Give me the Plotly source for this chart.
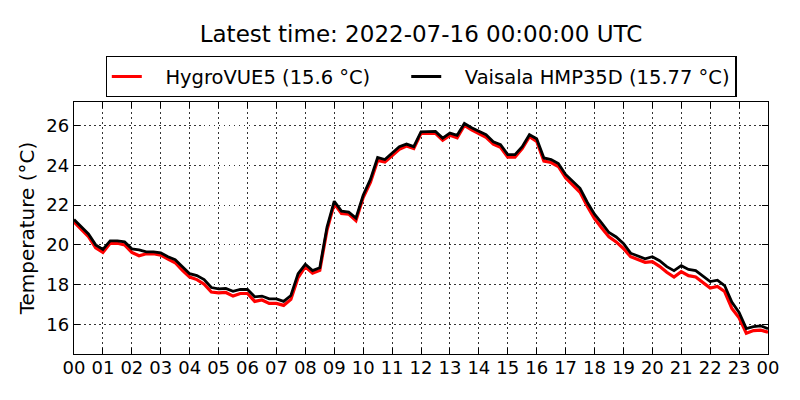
import pandas as pd
import plotly.graph_objects as go

# temperature readings every 15 minutes, 2022-07-15 00:00 .. 2022-07-16 00:00 UTC
vaisala = [21.28, 20.90, 20.55, 20.00, 19.77, 20.20, 20.20, 20.15,
           19.80, 19.75, 19.65, 19.65, 19.60, 19.40, 19.25, 18.90,
           18.55, 18.45, 18.25, 17.85, 17.78, 17.80, 17.66, 17.75,
           17.75, 17.38, 17.42, 17.28, 17.28, 17.15, 17.45, 18.55,
           19.02, 18.70, 18.85, 20.90, 22.20, 21.70, 21.65, 21.35,
           22.50, 23.30, 24.40, 24.30, 24.65, 24.95, 25.08, 24.95,
           25.70, 25.72, 25.72, 25.38, 25.63, 25.52, 26.12, 25.90,
           25.72, 25.55, 25.20, 25.05, 24.55, 24.55, 24.95, 25.55,
           25.35, 24.38, 24.30, 24.10, 23.55, 23.18, 22.85, 22.15,
           21.55, 21.10, 20.62, 20.40, 20.07, 19.58, 19.45, 19.30,
           19.40, 19.20, 18.90, 18.70, 18.95, 18.76, 18.70, 18.42,
           18.15, 18.22, 17.95, 17.12, 16.60, 15.78, 15.88, 15.92,
           15.77]

hygrovue = [21.15, 20.78, 20.42, 19.85, 19.62, 20.08, 20.08, 20.00,
            19.62, 19.45, 19.55, 19.55, 19.48, 19.28, 19.10, 18.72,
            18.38, 18.25, 18.02, 17.62, 17.58, 17.60, 17.42, 17.55,
            17.55, 17.15, 17.22, 17.05, 17.05, 16.95, 17.25, 18.35,
            18.90, 18.58, 18.72, 20.75, 22.08, 21.58, 21.55, 21.22,
            22.38, 23.15, 24.25, 24.18, 24.52, 24.82, 24.98, 24.85,
            25.62, 25.62, 25.62, 25.28, 25.52, 25.40, 26.02, 25.80,
            25.60, 25.42, 25.08, 24.92, 24.42, 24.42, 24.85, 25.45,
            25.22, 24.22, 24.15, 23.95, 23.38, 23.00, 22.65, 21.95,
            21.32, 20.85, 20.40, 20.15, 19.82, 19.40, 19.28, 19.12,
            19.15, 18.92, 18.62, 18.38, 18.65, 18.45, 18.38, 18.12,
            17.82, 17.90, 17.65, 16.80, 16.32, 15.55, 15.68, 15.70,
            15.60]

times = pd.date_range("2022-07-15 00:00", "2022-07-16 00:00", freq="15min")

nb = "\u00a0"  # no-break spaces used to space the legend entries

fig = go.Figure()
fig.add_trace(go.Scatter(x=times, y=hygrovue, mode="lines",
                         line=dict(color="red", width=3.2),
                         name=nb * 3 + f"HygroVUE5 ({hygrovue[-1]} °C)" + nb * 5))
fig.add_trace(go.Scatter(x=times, y=vaisala, mode="lines",
                         line=dict(color="black", width=2.8),
                         name=nb * 3 + f"Vaisala HMP35D ({vaisala[-1]} °C)"))

axis_style = dict(showline=True, linecolor="black", linewidth=1.3, mirror="ticks",
                  ticks="inside", ticklen=6, tickcolor="black", automargin=False,
                  showgrid=True, gridcolor="#333", griddash="1.5px,3.5px", gridwidth=1,
                  zeroline=False, tickfont=dict(size=18, color="black"))

fig.update_xaxes(range=[times[0], times[-1]], dtick=3600000, tickformat="%H",
                 ticklabelstandoff=-3, **axis_style)
fig.update_yaxes(range=[14.5, 27.2], dtick=2, title=dict(text="Temperature (°C)",
                 font=dict(size=20, color="black"), standoff=6), **axis_style)

# the page body adds an 8px offset, margins are set to compensate
fig.update_layout(
    width=800, height=400,
    margin=dict(l=66, r=40, t=94, b=54),
    paper_bgcolor="white", plot_bgcolor="white",
    font=dict(family="DejaVu Sans", color="black"),
    title=dict(text="Latest time: 2022-07-16 00:00:00 UTC", x=0.5, xref="paper",
               xanchor="center", y=0.935, yanchor="middle",
               font=dict(size=23, color="black")),
    legend=dict(orientation="h", x=0.5, xanchor="center", y=1.1825, yanchor="top",
                bordercolor="black", borderwidth=1.3, font=dict(size=19.5, color="black")),
    showlegend=True,
)

fig.write_html("out.html")
